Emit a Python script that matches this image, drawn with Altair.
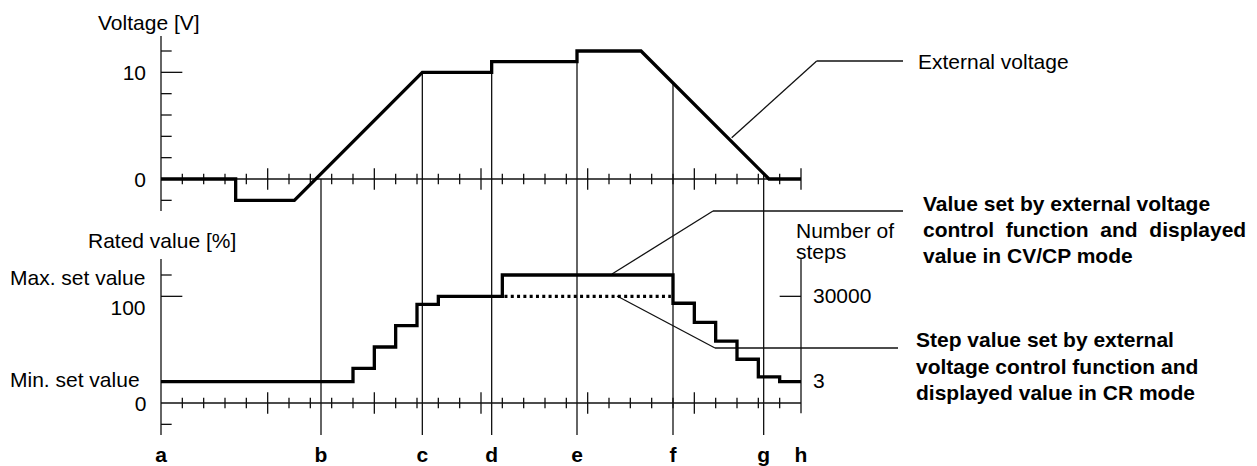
import altair as alt
import pandas as pd

# ---------------- values ----------------
# External voltage (upper diagram): time in divisions, voltage in V
volt_x = [0, 3.5, 3.5, 6.25, 12.25, 15.5, 15.5, 19.5, 19.5, 22.5, 28.5, 30]
volt_v = [0, 0, -2, -2, 10, 10, 11, 11, 12, 12, 0, 0]

# Value set in CV/CP mode (lower diagram, solid step line), % of rating
set_x = [0, 9, 10, 11, 12, 13, 16, 24, 25, 26, 27, 28, 29, 30]
set_pct = [20, 32.5, 52.5, 72.5, 92.5, 100, 120, 93.5, 75.5, 58, 41, 24.5, 20, 20]

# Step value in CR mode (dotted part), % of rating
cr_x = [16.1, 23.9]
cr_pct = [100, 100]

# Time markers
marker_names = ["a", "b", "c", "d", "e", "f", "g", "h"]
marker_x = [0, 7.5, 12.25, 15.5, 19.5, 24, 28.25, 30]
# Vertical guide lines (b..g) start at the voltage trace
guide_x = [7.5, 12.25, 15.5, 19.5, 24, 28.25]
guide_top_v = [0, 10, 10, 11, 8.9, 0.5]

# Axis ticks
time_ticks = list(range(1, 31))
volt_ticks = [-2, 2, 4, 6, 8, 10, 12]
volt_major = [10]
pct_ticks = [-20, 100, 120]
pct_major = [100]
steps_ticks = [100]

# Axis texts
volt_labels = ["10", "0"]
pct_labels_left = ["Max. set value", "Min. set value"]
pct_labels_right = ["100", "0"]
steps_labels = ["30000", "3"]

# ---------------- layout ----------------
W, H = 1241, 458
PXU = 640 / 30.0          # px per time division
PXV = PXU / 2.0           # px per volt (and per 10 %)
ORIG_X, ORIG_Y = 161, 179  # page position of (0, 0 V)
BOT = -21.0               # lower diagram 0 % sits 21 V-units below 0 V

X0 = -(ORIG_X - 8) / PXU
X1 = X0 + W / PXU
Y1 = (ORIG_Y - 8) / PXV
Y0 = Y1 - H / PXV


def ux(px):
    return (px - ORIG_X) / PXU


def vy(py):
    return (ORIG_Y - py) / PXV


def pv(p):
    return p / 10.0 + BOT


xs = alt.Scale(domain=[X0, X1], nice=False, zero=False)
ys = alt.Scale(domain=[Y0, Y1], nice=False, zero=False)

# ---------------- thin rules ----------------
rules = []


def seg(x, x2, y, y2):
    rules.append({"x": x, "x2": x2, "y": y, "y2": y2})


# axes
seg(0, 0, -3.0, 13.4)                 # voltage axis
seg(0, 30, 0, 0)                      # upper time axis
seg(0, 0, pv(-30), pv(135))           # rated value axis
seg(0, 30, pv(0), pv(0))              # lower time axis
seg(30, 30, pv(-9.5), pv(135))        # number of steps axis
for t in time_ticks:
    h = 1.0 if t % 5 == 0 else 0.5
    seg(t, t, -h, h)
    if t != 30:
        seg(t, t, pv(0) - h, pv(0) + h)
for v in volt_ticks:
    seg(0, 1.0 if v in volt_major else 0.5, v, v)
for p in pct_ticks:
    seg(0, 1.0 if p in pct_major else 0.5, pv(p), pv(p))
for p in steps_ticks:
    seg(29, 30, pv(p), pv(p))
# guide lines b..g
for gx, gt in zip(guide_x, guide_top_v):
    seg(gx, gx, gt, pv(-30))
# leader lines (page px)
leaders = [
    [(731.7, 137.7), (816.7, 61), (903, 61)],
    [(612, 274), (713, 211), (903, 211)],
    [(617, 296), (715, 348), (898, 348)],
]
for pts in leaders:
    for (ax, ay), (bx, by) in zip(pts[:-1], pts[1:]):
        seg(ux(ax), ux(bx), vy(ay), vy(by))

rules_df = pd.DataFrame(rules)

volt_df = pd.DataFrame({"x": volt_x, "y": volt_v, "i": range(len(volt_x))})
set_df = pd.DataFrame({"x": set_x, "y": [pv(p) for p in set_pct]})
cr_df = pd.DataFrame({"x": [cr_x[0]], "x2": [cr_x[1]], "y": [pv(cr_pct[0])]})

# ---------------- texts (baseline positions in page px) ----------------
left_reg = pd.DataFrame([
    {"t": "Voltage [V]", "x": ux(98), "y": vy(30)},
    {"t": "External voltage", "x": ux(918), "y": vy(68.5)},
    {"t": "Rated value [%]", "x": ux(88), "y": vy(248)},
    {"t": pct_labels_left[0], "x": ux(10), "y": vy(285)},
    {"t": pct_labels_left[1], "x": ux(10), "y": vy(387)},
    {"t": "Number of", "x": ux(796), "y": vy(238)},
    {"t": "steps", "x": ux(796), "y": vy(258.5)},
    {"t": steps_labels[0], "x": ux(813), "y": vy(302.5)},
    {"t": steps_labels[1], "x": ux(813), "y": vy(387.5)},
])
right_reg = pd.DataFrame([
    {"t": volt_labels[0], "x": ux(146), "y": vy(80)},
    {"t": volt_labels[1], "x": ux(146), "y": vy(186.5)},
    {"t": pct_labels_right[0], "x": ux(145.5), "y": vy(315)},
    {"t": pct_labels_right[1], "x": ux(146.5), "y": vy(411)},
])
left_bold = pd.DataFrame([
    {"t": "Value set by external voltage", "x": ux(923), "y": vy(211)},
    {"t": "control\u00a0 function\u00a0 and\u00a0 displayed", "x": ux(923), "y": vy(237)},
    {"t": "value in CV/CP mode", "x": ux(923), "y": vy(263)},
    {"t": "Step value set by external", "x": ux(916), "y": vy(347)},
    {"t": "voltage control function and", "x": ux(916), "y": vy(373.5)},
    {"t": "displayed value in CR mode", "x": ux(916), "y": vy(400)},
])
marker_df = pd.DataFrame({"t": marker_names, "x": marker_x,
                          "y": [vy(462)] * len(marker_x)})

FONT = "Liberation Sans"


def text_layer(df, align, bold):
    return alt.Chart(df).mark_text(
        align=align, baseline="alphabetic", font=FONT, fontSize=21,
        fontWeight="bold" if bold else "normal", color="black",
    ).encode(
        x=alt.X("x:Q", scale=xs, axis=None),
        y=alt.Y("y:Q", scale=ys, axis=None),
        text="t:N",
    )


thin = alt.Chart(rules_df).mark_rule(color="#111", strokeWidth=1.3).encode(
    x=alt.X("x:Q", scale=xs, axis=None), x2="x2:Q",
    y=alt.Y("y:Q", scale=ys, axis=None), y2="y2:Q",
)

volt_line = alt.Chart(volt_df).mark_line(color="black", strokeWidth=3.3).encode(
    x=alt.X("x:Q", scale=xs, axis=None),
    y=alt.Y("y:Q", scale=ys, axis=None),
    order="i:Q",
)

set_line = alt.Chart(set_df).mark_line(
    color="black", strokeWidth=3.3, interpolate="step-after"
).encode(
    x=alt.X("x:Q", scale=xs, axis=None),
    y=alt.Y("y:Q", scale=ys, axis=None),
)

cr_line = alt.Chart(cr_df).mark_rule(
    color="black", strokeWidth=3.3, strokeDash=[3, 3.3]
).encode(
    x=alt.X("x:Q", scale=xs, axis=None), x2="x2:Q",
    y=alt.Y("y:Q", scale=ys, axis=None),
)

chart = alt.layer(
    thin, cr_line, volt_line, set_line,
    text_layer(left_reg, "left", False),
    text_layer(right_reg, "right", False),
    text_layer(left_bold, "left", True),
    text_layer(marker_df, "center", True),
).properties(
    width=W, height=H, padding=0,
    autosize=alt.AutoSizeParams(type="none"),
    background="white",
).configure_view(strokeWidth=0)

chart.save("out.html", embed_options={"renderer": "svg", "actions": False})
